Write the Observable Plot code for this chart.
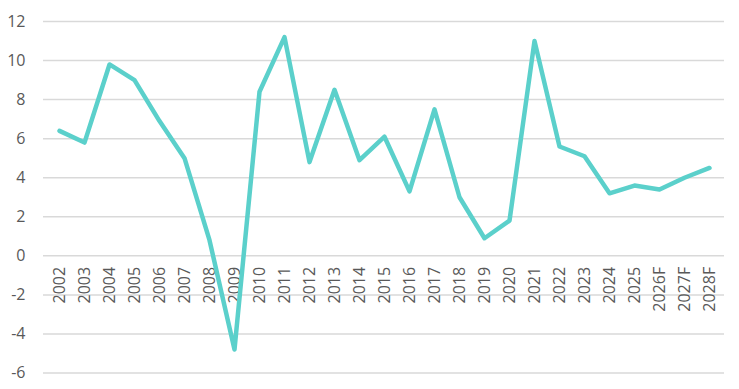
<!DOCTYPE html>
<html>
<head>
<meta charset="utf-8">
<script src="https://cdn.jsdelivr.net/npm/d3@7"></script>
<script src="https://cdn.jsdelivr.net/npm/@observablehq/plot@0.6"></script>
<style>
  html, body { margin: 0; padding: 0; background: #fff; }
  #chart svg { display: block; }
</style>
</head>
<body>
<div id="chart"></div>
<script>
const years = ["2002","2003","2004","2005","2006","2007","2008","2009","2010","2011","2012","2013","2014","2015","2016","2017","2018","2019","2020","2021","2022","2023","2024","2025","2026F","2027F","2028F"];
const values = [6.4, 5.8, 9.8, 9.0, 6.9, 5.0, 0.8, -4.8, 8.4, 11.2, 4.8, 8.5, 4.9, 6.1, 3.3, 7.5, 3.0, 0.9, 1.8, 11.0, 5.6, 5.1, 3.2, 3.6, 3.4, 4.0, 4.5];
const yTicks = [-6, -4, -2, 0, 2, 4, 6, 8, 10, 12];

const data = years.map((year, i) => ({year, value: values[i]}));

const chart = Plot.plot({
  width: 739,
  height: 389,
  marginLeft: 43,
  marginRight: 15,
  marginTop: 21,
  marginBottom: 16.5,
  style: {fontFamily: "'Open Sans', sans-serif", fontSize: "16px", background: "#fff"},
  x: {type: "point", domain: years, padding: 0.5, axis: null},
  y: {domain: [-6, 12], axis: null},
  marks: [
    Plot.gridY(yTicks, {stroke: "#d9d9d9", strokeOpacity: 1, strokeWidth: 1.5}),
    Plot.axisY(yTicks, {tickSize: 0, tickPadding: 18, fontSize: 16, fill: "#595959", textAnchor: "end", label: null, tickFormat: d => String(d)}),
    Plot.text(data, {x: "year", y: () => 0, text: "year", rotate: -90, textAnchor: "end", dy: 11, fontSize: 16, fill: "#595959"}),
    Plot.line(data, {x: "year", y: "value", stroke: "#5bd0cb", strokeWidth: 4.5, strokeLinejoin: "round", strokeLinecap: "round"})
  ]
});
document.getElementById("chart").appendChild(chart);
</script>
</body>
</html>
